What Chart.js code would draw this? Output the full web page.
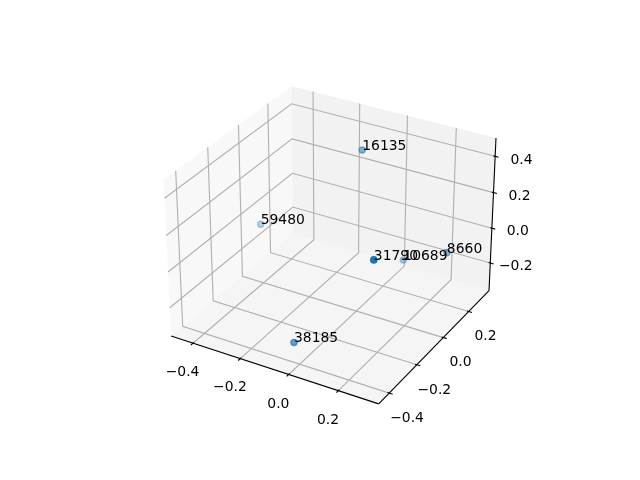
<!DOCTYPE html>
<html>
<head>
<meta charset="utf-8">
<script src="https://cdn.jsdelivr.net/npm/chart.js@4"></script>
<style>
  html, body { margin: 0; padding: 0; background: #fff; }
  canvas { display: block; }
</style>
</head>
<body>
<canvas id="scatter3d" width="640" height="480"></canvas>
<script>
// point ids and their 3D coordinates
const labels = ['16135', '59480', '31790', '10689', '8660', '38185'];
const xs = [-0.048, -0.440, 0.304, 0.082, 0.288, -0.013];
const ys = [0.119, 0.050, -0.421, 0.204, 0.148, -0.415];
const zs = [0.444, -0.070, 0.348, -0.179, -0.016, -0.233];

// axis limits and ticks
const xLim = [-0.4772, 0.3419];
const yLim = [-0.4568, 0.3499];
const zLim = [-0.3442, 0.4816];
const xTicks = [-0.4, -0.2, 0.0, 0.2];
const yTicks = [-0.4, -0.2, 0.0, 0.2];
const zTicks = [-0.2, 0.0, 0.2, 0.4];

const ELEV = 30, AZIM = -60, DIST = 10;
const PAD = 1 / 48;            // box drawn slightly outside the limits
const LABEL_K = 1.0372;        // tick label offset, in units of range/12
const FONT = '13.9px "DejaVu Sans"';
const GRID = '#b0b0b0';

// ---- projection, same steps as mplot3d (persp, focal length 1) ----
const cross = (a, b) => [a[1] * b[2] - a[2] * b[1], a[2] * b[0] - a[0] * b[2], a[0] * b[1] - a[1] * b[0]];
const dot = (a, b) => a[0] * b[0] + a[1] * b[1] + a[2] * b[2];
const unit = a => { const n = Math.hypot(...a); return a.map(q => q / n); };

const lims = [xLim, yLim, zLim];
const boxAspect = [4, 4, 3].map(a => a * 1.8294640721620434 / Math.hypot(4, 4, 3));
const el = ELEV * Math.PI / 180, az = AZIM * Math.PI / 180;
const viewW = [Math.cos(el) * Math.cos(az), Math.cos(el) * Math.sin(az), Math.sin(el)];
const eye = boxAspect.map((b, i) => b / 2 + DIST * viewW[i]);
const viewU = unit(cross([0, 0, 1], viewW));
const viewV = cross(viewW, viewU);

function project(p) {
  const d = p.map((q, i) => (q - lims[i][0]) / (lims[i][1] - lims[i][0]) * boxAspect[i] - eye[i]);
  const zv = dot(viewW, d);
  return { x: dot(viewU, d) / -zv, y: dot(viewV, d) / -zv, depth: 10 / zv };
}

const ranges = lims.map(l => l[1] - l[0]);
const lo = lims.map((l, i) => l[0] - PAD * ranges[i]);
const hi = lims.map((l, i) => l[1] + PAD * ranges[i]);
const delta = ranges.map(r => r / 12);

// ---- points, sorted far to near, shaded by depth ----
const proj = labels.map((_, i) => project([xs[i], ys[i], zs[i]]));
const depths = proj.map(p => p.depth);
const dMin = Math.min(...depths), dMax = Math.max(...depths);
const alphaOf = i => 1 - 0.7 * (proj[i].depth - dMin) / (dMax - dMin);
const order = labels.map((_, i) => i).sort((a, b) => proj[b].depth - proj[a].depth);
const colors = order.map(i => `rgba(31,119,180,${alphaOf(i).toFixed(3)})`);

function toPx(chart, p) {
  const q = project(p);
  return [chart.scales.x.getPixelForValue(q.x), chart.scales.y.getPixelForValue(q.y)];
}

function path(ctx, chart, pts, close) {
  ctx.beginPath();
  pts.forEach((p, k) => {
    const [x, y] = toPx(chart, p);
    if (k === 0) ctx.moveTo(x, y); else ctx.lineTo(x, y);
  });
  if (close) ctx.closePath();
}

const fmt = t => t.toFixed(1).replace('-', '\u2212');

const boxPlugin = {
  id: 'box3d',
  beforeDatasetsDraw(chart) {
    const ctx = chart.ctx;
    ctx.save();

    // back panes
    const panes = [
      [[[lo[0], lo[1], lo[2]], [lo[0], hi[1], lo[2]], [lo[0], hi[1], hi[2]], [lo[0], lo[1], hi[2]]], 'rgba(242,242,242,0.5)'],
      [[[lo[0], hi[1], lo[2]], [hi[0], hi[1], lo[2]], [hi[0], hi[1], hi[2]], [lo[0], hi[1], hi[2]]], 'rgba(230,230,230,0.5)'],
      [[[lo[0], lo[1], lo[2]], [hi[0], lo[1], lo[2]], [hi[0], hi[1], lo[2]], [lo[0], hi[1], lo[2]]], 'rgba(236,236,236,0.5)'],
    ];
    panes.forEach(([pts, fill]) => {
      path(ctx, chart, pts, true);
      ctx.fillStyle = fill;
      ctx.fill();
    });

    // grid lines
    ctx.strokeStyle = GRID;
    ctx.lineWidth = 1.11;
    xTicks.forEach(t => { path(ctx, chart, [[t, lo[1], lo[2]], [t, hi[1], lo[2]], [t, hi[1], hi[2]]]); ctx.stroke(); });
    yTicks.forEach(t => { path(ctx, chart, [[lo[0], t, hi[2]], [lo[0], t, lo[2]], [hi[0], t, lo[2]]]); ctx.stroke(); });
    zTicks.forEach(t => { path(ctx, chart, [[hi[0], hi[1], t], [lo[0], hi[1], t], [lo[0], lo[1], t]]); ctx.stroke(); });

    // axis lines
    ctx.strokeStyle = '#000';
    path(ctx, chart, [[lo[0], lo[1], lo[2]], [hi[0], lo[1], lo[2]]]); ctx.stroke();
    path(ctx, chart, [[hi[0], hi[1], lo[2]], [hi[0], lo[1], lo[2]]]); ctx.stroke();
    path(ctx, chart, [[hi[0], hi[1], lo[2]], [hi[0], hi[1], hi[2]]]); ctx.stroke();

    // tick marks
    xTicks.forEach(t => { path(ctx, chart, [[t, lo[1] - 0.2 * delta[1], lo[2]], [t, lo[1] + 0.1 * delta[1], lo[2]]]); ctx.stroke(); });
    yTicks.forEach(t => { path(ctx, chart, [[hi[0] + 0.2 * delta[0], t, lo[2]], [hi[0] - 0.1 * delta[0], t, lo[2]]]); ctx.stroke(); });
    zTicks.forEach(t => { path(ctx, chart, [[hi[0] + 0.2 * delta[0], hi[1], t], [hi[0] - 0.1 * delta[0], hi[1], t]]); ctx.stroke(); });

    // tick labels
    ctx.fillStyle = '#000';
    ctx.font = FONT;
    ctx.textAlign = 'center';
    ctx.textBaseline = 'top';
    const k = LABEL_K;
    xTicks.forEach(t => {
      const [x, y] = toPx(chart, [t, lo[1] - k * delta[1], lo[2] - k * delta[2]]);
      ctx.fillText(fmt(t), x, y);
    });
    yTicks.forEach(t => {
      const [x, y] = toPx(chart, [hi[0] + k * delta[0], t, lo[2] - k * delta[2]]);
      ctx.fillText(fmt(t), x, y);
    });
    zTicks.forEach(t => {
      const [x, y] = toPx(chart, [hi[0] + k * delta[0], hi[1] + k * delta[1], t]);
      ctx.fillText(fmt(t), x, y);
    });
    ctx.restore();
  },
};

const textPlugin = {
  id: 'pointText',
  afterDatasetsDraw(chart) {
    const ctx = chart.ctx;
    ctx.save();
    ctx.fillStyle = '#000';
    ctx.font = FONT;
    ctx.textAlign = 'left';
    ctx.textBaseline = 'alphabetic';
    labels.forEach((s, i) => {
      const [x, y] = toPx(chart, [xs[i], ys[i], zs[i]]);
      ctx.fillText(s, x, y);
    });
    ctx.restore();
  },
};

new Chart(document.getElementById('scatter3d'), {
  type: 'scatter',
  data: {
    datasets: [{
      data: order.map(i => ({ x: proj[i].x, y: proj[i].y })),
      pointBackgroundColor: colors,
      pointBorderColor: colors,
      pointRadius: 3.1,
      pointHoverRadius: 3.1,
      pointBorderWidth: 1.4,
    }],
  },
  options: {
    responsive: false,
    animation: false,
    devicePixelRatio: 1,
    events: [],
    layout: { padding: { left: 143.2, right: 127.2, top: 57.6, bottom: 52.8 } },
    scales: {
      x: { type: 'linear', min: -0.095, max: 0.09, display: false },
      y: { type: 'linear', min: -0.095, max: 0.09, display: false },
    },
    plugins: { legend: { display: false }, tooltip: { enabled: false } },
  },
  plugins: [boxPlugin, textPlugin],
});
</script>
</body>
</html>
